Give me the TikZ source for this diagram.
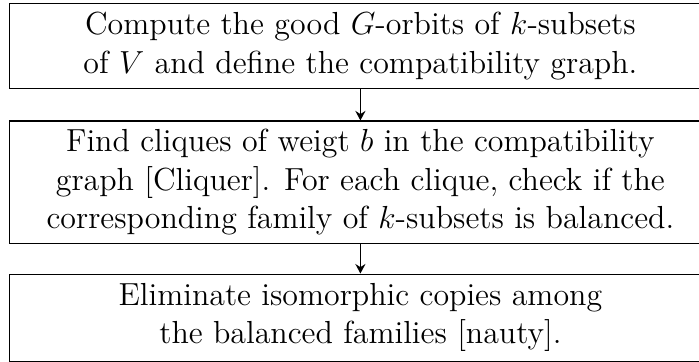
\documentclass[tikz,border=0pt]{standalone}
\usetikzlibrary{arrows.meta}
\begin{document}
\begin{tikzpicture}[x=1pt,y=1pt,
  stepbox/.style={draw, line width=0.4pt, minimum width=263.6pt, inner sep=0pt, align=center,
    font=\fontsize{12}{14.5}\selectfont},
  flow/.style={-{Stealth[length=3.6pt,width=3.8pt,inset=1.2pt]}, line width=0.65pt}]
\useasboundingbox (0,0) rectangle (262.8,-136.1);
\node[stepbox, minimum height=32.3pt] (b1) at (135.5,-17.3)
  {Compute the good $G$-orbits of $k$-subsets\\of $V$ and define the compatibility graph.};
\node[stepbox, minimum height=46.2pt] (b2) at (135.5,-68.6)
  {Find cliques of weigt $b$ in the compatibility\\graph [Cliquer]. For each clique, check if the\\corresponding family of $k$-subsets is balanced.};
\node[stepbox, minimum height=32.7pt] (b3) at (135.5,-119.4)
  {Eliminate isomorphic copies among\\the balanced families [nauty].};
\draw[flow] (b1) -- (b2);
\draw[flow] (b2) -- (b3);
\end{tikzpicture}
\end{document}
